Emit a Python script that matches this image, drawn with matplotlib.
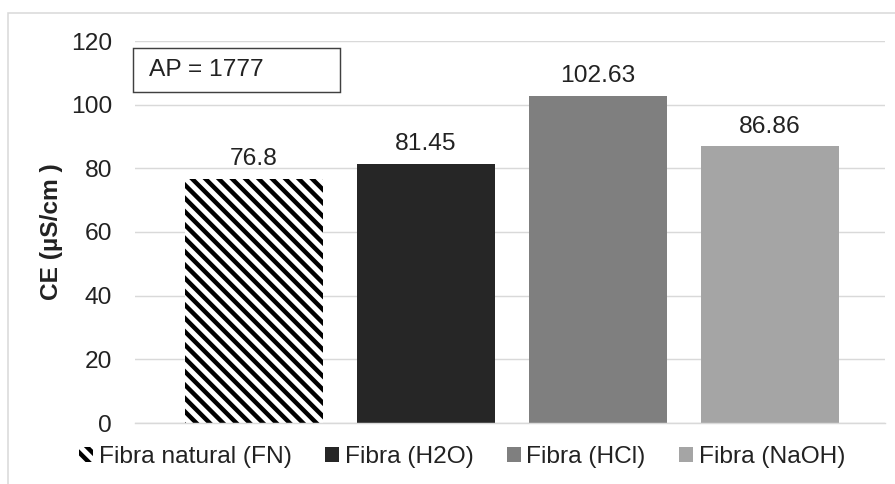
import matplotlib
matplotlib.use("Agg")
import matplotlib.pyplot as plt
from matplotlib.patches import Rectangle, Patch

# conductividad eléctrica por tipo de fibra
categories = ["Fibra natural (FN)", "Fibra (H2O)", "Fibra (HCl)", "Fibra (NaOH)"]
values = [76.8, 81.45, 102.63, 86.86]
colors = ["white", "#262626", "#7f7f7f", "#a5a5a5"]
hatches = ["\\\\", "", "", ""]
yticks = [0, 20, 40, 60, 80, 100, 120]
note = "AP = 1777"

plt.rcParams["font.family"] = ["Liberation Sans", "DejaVu Sans"]
plt.rcParams["hatch.linewidth"] = 4.0
txt = "#222222"
fs = 22

fig = plt.figure(figsize=(895 / 80, 484 / 80), dpi=80)
ax = fig.add_axes([135 / 895, 61 / 484, 750 / 895, 382 / 484])

x = list(range(len(values)))
for i, (v, c, h) in enumerate(zip(values, colors, hatches)):
    b = ax.bar(x[i], v, width=0.80, color=c, hatch=h,
               edgecolor="black" if h else c, linewidth=0, zorder=2)
    ax.bar_label(b, labels=[f"{v:g}"], padding=8, fontsize=fs, color=txt)

ax.set_xlim(-0.69, 3.67)
ax.set_ylim(0, 120)
ax.set_yticks(yticks)
ax.set_xticks([])
ax.tick_params(axis="y", length=0, pad=20.5, labelsize=fs, labelcolor=txt)
ax.yaxis.grid(True, color="#d9d9d9", linewidth=1.3, zorder=0)
ax.set_axisbelow(True)
for s in ["top", "right", "left"]:
    ax.spines[s].set_visible(False)
ax.spines["bottom"].set_color("#d9d9d9")
ax.spines["bottom"].set_linewidth(1.3)

ax.set_ylabel("CE (µS/cm )", fontsize=fs, fontweight="bold", color=txt)
ax.yaxis.set_label_coords(-0.096, 0.5)

# recuadro con la anotación
ax.add_patch(Rectangle((-0.0027, 0.8665), 0.276, 0.1152, transform=ax.transAxes,
                       facecolor="white", edgecolor="#404040", linewidth=1.3,
                       clip_on=False, zorder=3))
ax.text(0.0187, 0.924, note, transform=ax.transAxes, fontsize=fs, color=txt,
        va="center", ha="left", zorder=4)

# marco del gráfico
fig.add_artist(Rectangle((8 / 895, -0.1), 1.2, 1.1 - 13 / 484, transform=fig.transFigure,
                         facecolor="none", edgecolor="#d9d9d9", linewidth=1.4))

handles = [Patch(facecolor=c, hatch=h, edgecolor="black" if h else c, linewidth=0)
           for c, h in zip(colors, hatches)]
fig.legend(handles, categories, ncol=4, loc="center", bbox_to_anchor=(0.5165, 1 - 457 / 484),
           frameon=False, fontsize=fs, handlelength=0.57, handleheight=0.57,
           handletextpad=0.22, columnspacing=1.38, borderpad=0, labelcolor=txt)

fig.savefig("out.png", dpi=80)
